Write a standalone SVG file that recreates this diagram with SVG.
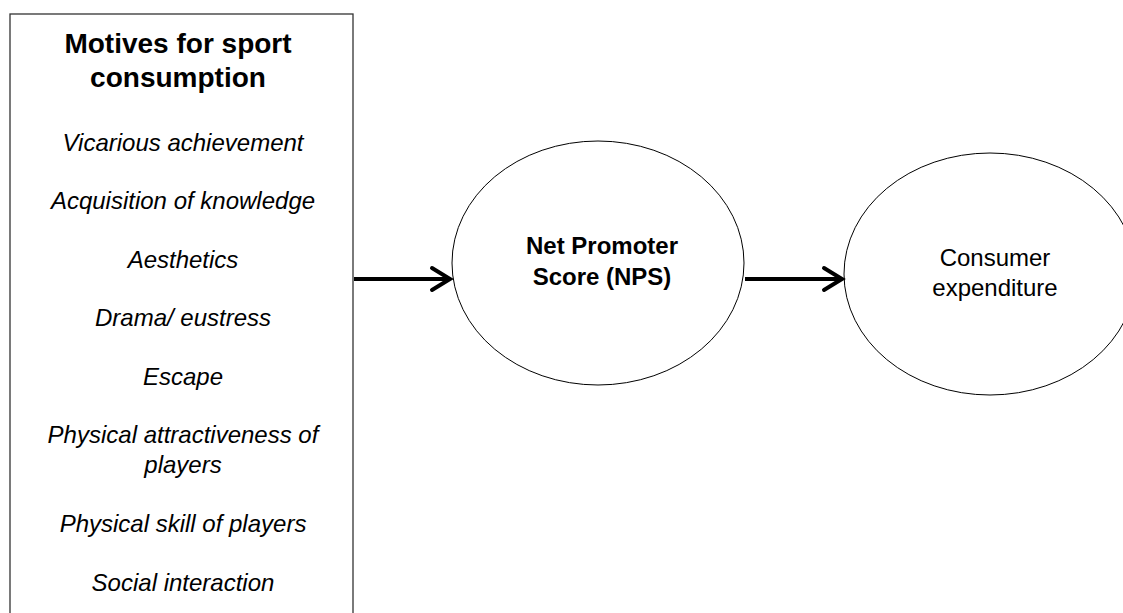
<svg xmlns="http://www.w3.org/2000/svg" width="1123" height="613" viewBox="0 0 1123 613">
<defs>
<style>
.box{fill:#fff;stroke:#333;stroke-width:1.3}
.ell{fill:#fff;stroke:#000;stroke-width:1}
.title{font-family:"Liberation Sans",Arial,sans-serif;font-weight:bold;font-size:28px;fill:#000;text-anchor:middle}
.item{font-family:"Liberation Sans",Arial,sans-serif;font-style:italic;font-size:24px;fill:#000;text-anchor:middle}
.bold{font-family:"Liberation Sans",Arial,sans-serif;font-weight:bold;font-size:24px;fill:#000;text-anchor:middle}
.reg{font-family:"Liberation Sans",Arial,sans-serif;font-size:24px;fill:#000;text-anchor:middle}
.conn{stroke:#000;stroke-width:4;fill:none}
.head{stroke:#000;stroke-width:4;fill:none;stroke-linecap:round;stroke-linejoin:miter}
</style>
</defs>
<rect width="1123" height="613" fill="#fff"/>
<g id="motives">
<rect class="box" x="10" y="14" width="343" height="620"/>
<text class="title" x="178" y="53">Motives for sport</text>
<text class="title" x="178" y="87">consumption</text>
<text class="item" x="183" y="151">Vicarious achievement</text>
<text class="item" x="183" y="209">Acquisition of knowledge</text>
<text class="item" x="183" y="268">Aesthetics</text>
<text class="item" x="183" y="326">Drama/ eustress</text>
<text class="item" x="183" y="385">Escape</text>
<text class="item" x="183" y="443">Physical attractiveness of</text>
<text class="item" x="183" y="473">players</text>
<text class="item" x="183" y="532">Physical skill of players</text>
<text class="item" x="183" y="591">Social interaction</text>
</g>
<g id="nps">
<ellipse class="ell" cx="598" cy="263" rx="146" ry="122"/>
<text class="bold" x="602" y="254">Net Promoter</text>
<text class="bold" x="602" y="285">Score (NPS)</text>
</g>
<g id="expenditure">
<ellipse class="ell" cx="990" cy="274" rx="146" ry="121"/>
<text class="reg" x="995" y="266">Consumer</text>
<text class="reg" x="995" y="296">expenditure</text>
</g>
<g id="connectors">
<line class="conn" x1="354" y1="279" x2="450" y2="279"/>
<polyline class="head" points="432,268 450,279 432,290"/>
<line class="conn" x1="745" y1="279" x2="842" y2="279"/>
<polyline class="head" points="824,268 842,279 824,290"/>
</g>
</svg>
